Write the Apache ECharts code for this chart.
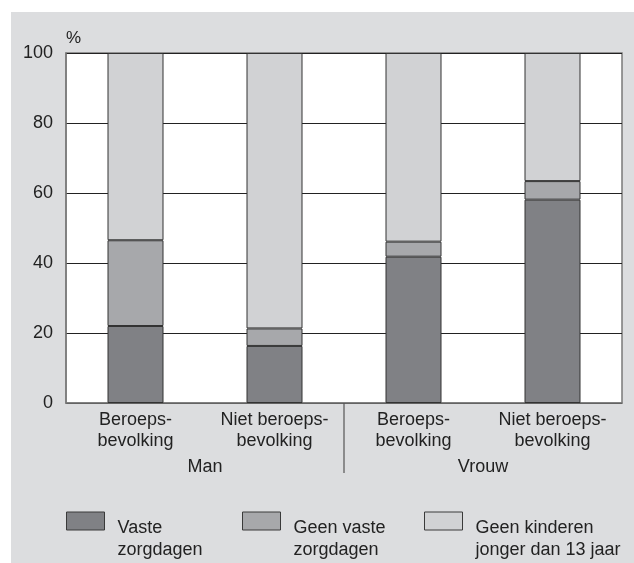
<!DOCTYPE html>
<html>
<head>
<meta charset="utf-8">
<script src="https://cdn.jsdelivr.net/npm/echarts@6/dist/echarts.min.js"></script>
<style>
html,body{margin:0;padding:0;background:#fff;}
#c{width:634px;height:563px;}
</style>
</head>
<body>
<div id="c"></div>
<script>
const categories = ['Beroeps-\nbevolking', 'Niet beroeps-\nbevolking', 'Beroeps-\nbevolking', 'Niet beroeps-\nbevolking'];
const groups = ['Man', 'Vrouw'];
const seriesNames = ['Vaste\nzorgdagen', 'Geen vaste\nzorgdagen', 'Geen kinderen\njonger dan 13 jaar'];
const vasteZorgdagen = [22.0, 16.3, 41.8, 58.1];
const geenVasteZorgdagen = [24.5, 5.0, 4.3, 5.3];
const geenKinderen = [53.5, 78.7, 53.9, 36.6];
const yMin = 0, yMax = 100, yInterval = 20;
const yName = '%';

const colors = ['#808185', '#a7a8ab', '#d1d2d4'];
const font = 'Liberation Sans, Arial, Helvetica, sans-serif';
const G = {left: 66, right: 12, top: 53, height: 350};
const W = 634;

const chart = echarts.init(document.getElementById('c'), null, {renderer: 'canvas'});

const values = [vasteZorgdagen, geenVasteZorgdagen, geenKinderen];
const legendLeft = [66, 242, 424];

const option = {
  backgroundColor: '#ffffff',
  animation: false,
  textStyle: {fontFamily: font},
  graphic: [
    {type: 'rect', z: -100, silent: true, shape: {x: 11, y: 12, width: 623, height: 551}, style: {fill: '#dcdddf'}},
    {type: 'line', z: 100, silent: true,
     shape: {x1: G.left + (W - G.left - G.right) / 2, y1: G.top + G.height, x2: G.left + (W - G.left - G.right) / 2, y2: 473},
     style: {stroke: '#555', lineWidth: 1.2}}
  ],
  grid: {left: G.left, right: G.right, top: G.top, height: G.height, show: true, backgroundColor: '#ffffff', borderColor: '#7a7a7a', borderWidth: 1.5, containLabel: false},
  legend: seriesNames.map((n, i) => ({
    data: [n], left: legendLeft[i], top: 481, padding: 0, orient: 'horizontal',
    itemWidth: 38, itemHeight: 18, icon: 'rect', selectedMode: false,
    itemStyle: {borderColor: '#3a3a3a', borderWidth: 1},
    formatter: function (name) {
      return '{s| }\n' + name.split('\n').map(l => '{t|' + l + '}').join('\n');
    },
    textStyle: {
      fontFamily: font, fontSize: 18, color: '#222', lineHeight: 22, padding: [0, 0, 0, 8],
      rich: {
        s: {fontSize: 2, lineHeight: 36, height: 36},
        t: {fontFamily: font, fontSize: 18, color: '#222', lineHeight: 22}
      }
    }
  })),
  xAxis: [
    {type: 'category', data: categories, gridIndex: 0,
     axisLine: {show: true, lineStyle: {color: '#7a7a7a', width: 1.5}},
     axisTick: {show: false},
     axisLabel: {interval: 0, fontFamily: font, fontSize: 18, color: '#222', lineHeight: 21, margin: 7}},
    {type: 'category', data: groups, gridIndex: 0, position: 'bottom', offset: 48,
     axisLine: {show: false}, axisTick: {show: false}, splitLine: {show: false},
     axisLabel: {interval: 0, fontFamily: font, fontSize: 18, color: '#222', lineHeight: 21, margin: 6}}
  ],
  yAxis: {
    type: 'value', min: yMin, max: yMax, interval: yInterval,
    name: yName, nameLocation: 'end', nameGap: 6,
    nameTextStyle: {fontFamily: font, fontSize: 17, color: '#222', align: 'left', padding: [0, 0, 0, 0]},
    axisLine: {show: true, lineStyle: {color: '#7a7a7a', width: 1.5}},
    axisTick: {show: false},
    axisLabel: {fontFamily: font, fontSize: 18, color: '#222', margin: 13},
    splitLine: {show: true, lineStyle: {color: '#222', width: 1}}
  },
  series: seriesNames.map((n, i) => ({
    name: n, type: 'bar', stack: 'total', xAxisIndex: 0, barWidth: 56,
    data: values[i],
    itemStyle: {color: colors[i], borderColor: '#333', borderWidth: 1},
    z: 3
  }))
};
chart.setOption(option);
</script>
</body>
</html>
